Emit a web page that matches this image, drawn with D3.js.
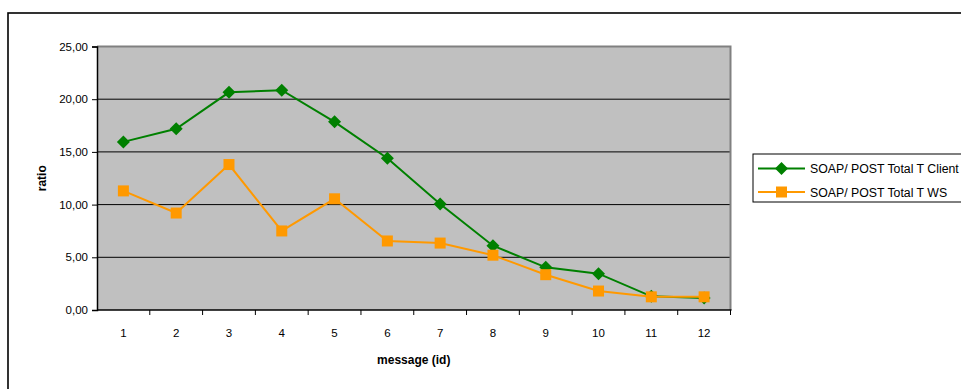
<!DOCTYPE html>
<html>
<head>
<meta charset="utf-8">
<script src="https://cdn.jsdelivr.net/npm/d3@7"></script>
<style>
  html, body { margin: 0; padding: 0; background: #fff; }
  svg { display: block; font-family: "Liberation Sans", Arial, sans-serif; }
</style>
</head>
<body>
<svg id="chart" width="961" height="389"></svg>
<script>
// Message ids on the x axis
const messages = ["1", "2", "3", "4", "5", "6", "7", "8", "9", "10", "11", "12"];
// SOAP / POST total time ratios
const clientRatio = [15.95, 17.2, 20.65, 20.85, 17.85, 14.4, 10.05, 6.1, 4.05, 3.45, 1.3, 1.15];
const wsRatio = [11.3, 9.2, 13.8, 7.5, 10.55, 6.55, 6.35, 5.2, 3.35, 1.8, 1.25, 1.25];
const yTicks = [0, 5, 10, 15, 20, 25];
const seriesNames = ["SOAP/ POST Total T Client", "SOAP/ POST Total T WS"];

const svg = d3.select("#chart");

// Outer chart frame
svg.append("rect")
  .attr("x", 8).attr("y", 13).attr("width", 970).attr("height", 400)
  .attr("fill", "none").attr("stroke", "#000").attr("stroke-width", 1.6);

const plot = { left: 97, top: 46.5, right: 730.5, bottom: 310 };

const x = d3.scaleBand().domain(messages).range([plot.left, plot.right]).padding(0);
const y = d3.scaleLinear().domain([0, 25]).range([plot.bottom, plot.top]);

// Plot background
svg.append("rect")
  .attr("x", plot.left).attr("y", plot.top)
  .attr("width", plot.right - plot.left).attr("height", plot.bottom - plot.top)
  .attr("fill", "#c0c0c0");

// Horizontal gridlines
svg.append("g").selectAll("line")
  .data(yTicks.filter(d => d > 0 && d < 25))
  .join("line")
  .attr("x1", plot.left).attr("x2", plot.right)
  .attr("y1", d => y(d)).attr("y2", d => y(d))
  .attr("stroke", "#000").attr("stroke-width", 1);

// Plot border (top and right)
svg.append("path")
  .attr("d", `M${plot.left},${y(25)}H${plot.right}V${plot.bottom}`)
  .attr("fill", "none").attr("stroke", "#808080").attr("stroke-width", 2);

// Y axis
const fmt = d => d3.format(".2f")(d).replace(".", ",");
const yAxis = svg.append("g")
  .attr("transform", `translate(${plot.left},0)`)
  .call(d3.axisLeft(y).tickValues(yTicks).tickFormat(fmt).tickSize(5).tickPadding(4));
yAxis.select(".domain").attr("stroke", "#000").attr("stroke-width", 1.5);
yAxis.selectAll(".tick line").attr("stroke", "#000");
yAxis.selectAll("text").attr("font-size", 11.5).attr("fill", "#000")
  .attr("font-family", "Liberation Sans, Arial, sans-serif");

// X axis: ticks on category boundaries, labels centred in each band
const xAxisG = svg.append("g").attr("transform", `translate(0,${plot.bottom})`);
xAxisG.append("line")
  .attr("x1", plot.left).attr("x2", plot.right + 1)
  .attr("stroke", "#000").attr("stroke-width", 1.5);
const boundaries = messages.map(m => x(m)).concat([x(messages[messages.length - 1]) + x.bandwidth()]);
xAxisG.selectAll("line.tk").data(boundaries.slice(1)).join("line")
  .attr("class", "tk")
  .attr("x1", d => d).attr("x2", d => d).attr("y1", 0).attr("y2", 5)
  .attr("stroke", "#000");
xAxisG.selectAll("text").data(messages).join("text")
  .attr("x", d => x(d) + x.bandwidth() / 2)
  .attr("y", 27)
  .attr("text-anchor", "middle")
  .attr("font-size", 11.5)
  .text(d => d);

// Axis titles
svg.append("text")
  .attr("transform", `translate(46,${(plot.top + plot.bottom) / 2}) rotate(-90)`)
  .attr("text-anchor", "middle")
  .attr("font-size", 12).attr("font-weight", "bold")
  .text("ratio");
svg.append("text")
  .attr("x", (plot.left + plot.right) / 2).attr("y", 364)
  .attr("text-anchor", "middle")
  .attr("font-size", 12).attr("font-weight", "bold")
  .text("message (id)");

// Series
const cx = d => x(d) + x.bandwidth() / 2;
const line = d3.line().x(d => cx(d.m)).y(d => y(d.v));
const series = [
  { name: seriesNames[0], values: clientRatio, color: "#008000", shape: "diamond" },
  { name: seriesNames[1], values: wsRatio, color: "#ff9900", shape: "square" }
];

function marker(g, shape, color) {
  if (shape === "diamond") {
    g.append("path").attr("d", "M0,-6.5L6.5,0L0,6.5L-6.5,0Z").attr("fill", color);
  } else {
    g.append("rect").attr("x", -5.5).attr("y", -5.5).attr("width", 11).attr("height", 11).attr("fill", color);
  }
}

series.forEach(s => {
  const pts = messages.map((m, i) => ({ m, v: s.values[i] }));
  svg.append("path").datum(pts)
    .attr("d", line).attr("fill", "none")
    .attr("stroke", s.color).attr("stroke-width", 2);
  svg.append("g").selectAll("g").data(pts).join("g")
    .attr("transform", d => `translate(${cx(d.m)},${y(d.v)})`)
    .each(function () { marker(d3.select(this), s.shape, s.color); });
});

// Legend
const legend = svg.append("g");
legend.append("rect")
  .attr("x", 753).attr("y", 154).attr("width", 230).attr("height", 48)
  .attr("fill", "#fff").attr("stroke", "#000").attr("stroke-width", 1);
series.forEach((s, i) => {
  const ly = 168.5 + i * 23.5;
  legend.append("line").attr("x1", 758).attr("x2", 805).attr("y1", ly).attr("y2", ly)
    .attr("stroke", s.color).attr("stroke-width", 2);
  const mg = legend.append("g").attr("transform", `translate(781.5,${ly})`);
  marker(mg, s.shape, s.color);
  legend.append("text").attr("x", 810).attr("y", ly + 4.5)
    .attr("font-size", 12.3).text(s.name);
});
</script>
</body>
</html>
